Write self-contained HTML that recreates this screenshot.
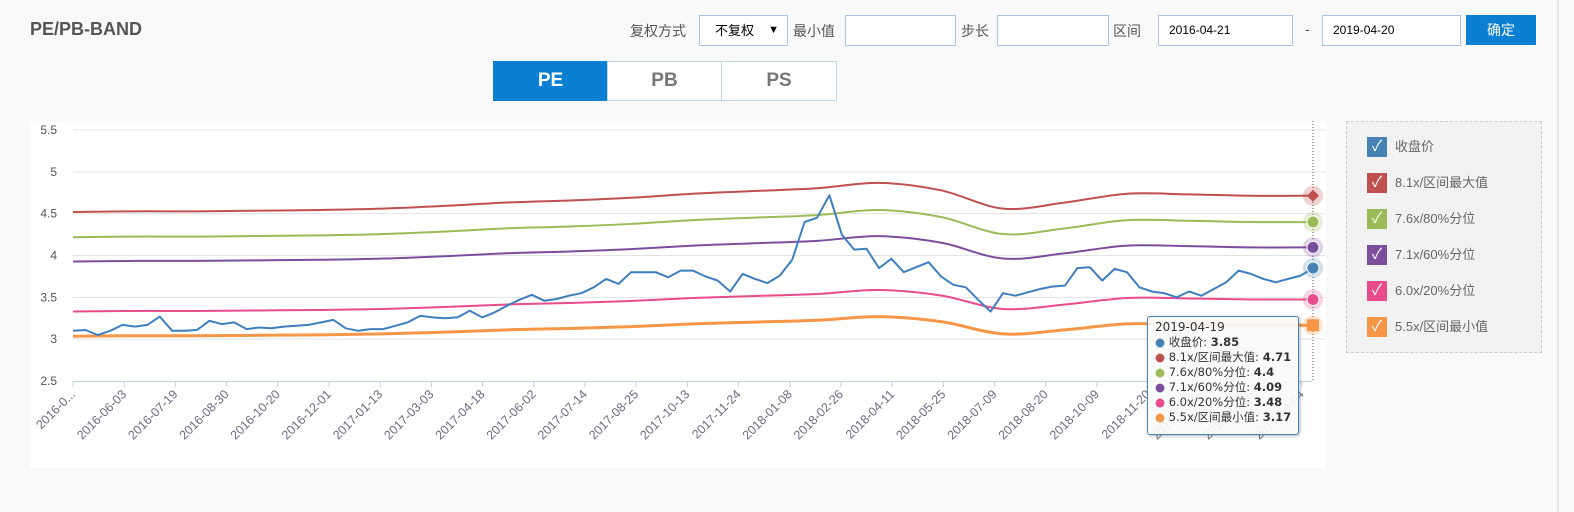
<!DOCTYPE html>
<html style="overflow:hidden"><head><meta charset="utf-8">
<style>
html,body{margin:0;padding:0}
body{width:1574px;height:512px;background:#f9f9f9;font-family:"Liberation Sans","Noto Sans CJK SC",sans-serif;position:relative;overflow:hidden}
.abs{position:absolute}
.lbl{font-size:14px;color:#555;top:21px}
.inp{top:15px;height:31px;border:1px solid #a9c4e6;background:#fff;box-sizing:border-box;font-size:12px;line-height:29px;padding-left:10px;color:#000}
.tab{top:61px;height:40px;width:115px;border:1px solid #c5d6ea;box-sizing:border-box;background:#fff;color:#777;font-weight:bold;font-size:19px;text-align:center;line-height:38px}
</style></head><body>
<div class="abs" style="left:30px;top:19px;font-size:18px;font-weight:bold;color:#555">PE/PB-BAND</div>
<div class="abs lbl" style="left:630px">复权方式</div>
<div class="abs inp" style="left:699px;width:89px;font-size:13px;padding-left:15px">不复权<span style="position:absolute;right:8px;font-size:11px">▼</span></div>
<div class="abs lbl" style="left:793px">最小值</div>
<div class="abs inp" style="left:845px;width:111px"></div>
<div class="abs lbl" style="left:961px">步长</div>
<div class="abs inp" style="left:997px;width:112px"></div>
<div class="abs lbl" style="left:1113px">区间</div>
<div class="abs inp" style="left:1158px;width:135px">2016-04-21</div>
<div class="abs lbl" style="left:1305px">-</div>
<div class="abs inp" style="left:1322px;width:139px">2019-04-20</div>
<div class="abs" style="left:1466px;top:15px;width:70px;height:30px;background:#0b7fd2;color:#fff;font-size:14px;text-align:center;line-height:30px">确定</div>
<div class="abs tab" style="left:493px;background:#0b7fd2;color:#fff;border-color:#0b7fd2">PE</div>
<div class="abs tab" style="left:607px">PB</div>
<div class="abs tab" style="left:721px;width:116px">PS</div>
<div class="abs" style="left:1557px;top:0;width:2px;height:512px;background:#e6e6e6"></div>

<svg class="abs" style="left:0;top:0" width="1574" height="512" id="chart">
<rect x="30" y="121" width="1296" height="347" fill="#fff"/>
<g id="grid"></g><g id="xaxis"></g><g id="series"></g><g id="markers"></g>
</svg>

<div class="abs" style="left:1147px;top:316px;width:152px;height:119px;box-sizing:border-box;border:1px solid #4682b4;border-radius:3px;background:rgba(250,250,250,0.93);box-shadow:1px 1px 3px rgba(0,0,0,.3);font-size:11.5px;color:#333;padding:3px 0 0 7px;line-height:15px;font-family:'DejaVu Sans','Noto Sans CJK SC',sans-serif;white-space:nowrap">
<div style="font-size:12px">2019-04-19</div>
<div><span style="color:#4682b4">●</span> 收盘价: <b>3.85</b></div>
<div><span style="color:#c0504d">●</span> 8.1x/区间最大值: <b>4.71</b></div>
<div><span style="color:#9bbb59">●</span> 7.6x/80%分位: <b>4.4</b></div>
<div><span style="color:#7b4e9d">●</span> 7.1x/60%分位: <b>4.09</b></div>
<div><span style="color:#e84c8b">●</span> 6.0x/20%分位: <b>3.48</b></div>
<div><span style="color:#f79646">●</span> 5.5x/区间最小值: <b>3.17</b></div>
</div>

<div class="abs" style="left:1346px;top:121px;width:196px;height:232px;box-sizing:border-box;border:1px dashed #ccc;background:#f2f2f2" id="legend"></div>

<script>
const priceValues=[3.10,3.11,3.05,3.10,3.17,3.15,3.17,3.27,3.10,3.10,3.11,3.22,3.18,3.20,3.12,3.14,3.13,3.15,3.16,3.17,3.20,3.23,3.13,3.10,3.12,3.12,3.16,3.20,3.28,3.26,3.25,3.26,3.34,3.26,3.32,3.40,3.47,3.53,3.46,3.48,3.52,3.55,3.62,3.72,3.66,3.80,3.80,3.80,3.74,3.82,3.82,3.75,3.70,3.57,3.78,3.72,3.67,3.76,3.95,4.40,4.45,4.72,4.25,4.07,4.08,3.85,3.96,3.80,3.86,3.92,3.75,3.65,3.62,3.47,3.33,3.55,3.52,3.56,3.60,3.63,3.64,3.85,3.86,3.70,3.84,3.80,3.62,3.57,3.55,3.50,3.57,3.52,3.60,3.68,3.82,3.78,3.72,3.68,3.72,3.76,3.85];
const epsValues=[0.558,0.559,0.559,0.560,0.561,0.563,0.567,0.572,0.575,0.579,0.585,0.589,0.593,0.601,0.590,0.563,0.572,0.585,0.584,0.582,0.582];
const bandMultipliers=[8.1,7.56,7.04,5.97,5.44];
const bandNames=['8.1x/区间最大值','7.6x/80%分位','7.1x/60%分位','6.0x/20%分位','5.5x/区间最小值'];
const bandColors=['#c0504d','#9bbb59','#7b4e9d','#e84c8b','#f79646'];
const yTicks=[2.5,3,3.5,4,4.5,5,5.5];
const xTickLabels=['2016-0...','2016-06-03','2016-07-19','2016-08-30','2016-10-20','2016-12-01','2017-01-13','2017-03-03','2017-04-18','2017-06-02','2017-07-14','2017-08-25','2017-10-13','2017-11-24','2018-01-08','2018-02-26','2018-04-11','2018-05-25','2018-07-09','2018-08-20','2018-10-09','2018-11-20','2019-01-04','2019-02-25','2019-04-04'];

const X0=73,X1=1313,Y0=381,Y1=130;
const ns='http://www.w3.org/2000/svg';
const yS=v=>Y0-(v-2.5)/(5.5-2.5)*(Y0-Y1);
const xF=f=>X0+f*(X1-X0);
function mk(tag,attrs,parent){const e=document.createElementNS(ns,tag);for(const k in attrs)e.setAttribute(k,attrs[k]);parent.appendChild(e);return e;}
const grid=document.getElementById('grid'),xa=document.getElementById('xaxis'),ser=document.getElementById('series'),mkr=document.getElementById('markers');
yTicks.forEach(t=>{
  if(t>2.5){const l=mk('line',{x1:X0,x2:X1+13,y1:yS(t),y2:yS(t),stroke:'#e3e3e3','stroke-width':1},grid);
  
  }
  const tx=mk('text',{x:57,y:yS(t)+4,'text-anchor':'end','font-size':12,fill:'#555','font-family':'Liberation Sans, sans-serif'},grid);
  tx.textContent=t;
  
  
});
const ax=mk('line',{x1:X0,x2:X1,y1:Y0+0.5,y2:Y0+0.5,stroke:'#c0d0e0'},xa);


const step=(X1-X0)/(xTickLabels.length-1+0.22);
xTickLabels.forEach((s,i)=>{
  const x=X0+i*step;
  const tk=mk('line',{x1:x,x2:x,y1:Y0,y2:Y0+6,stroke:'#c0d0e0'},xa);
  
  
  const t=mk('text',{x:x+3,y:Y0+14,'text-anchor':'end','font-size':12.5,fill:'#6f6a80','font-family':'Liberation Sans, sans-serif',transform:`rotate(-45 ${x+3} ${Y0+14})`},xa);
  t.textContent=s;
  
  
});
const dl=mk('line',{x1:X1,x2:X1,y1:121,y2:Y0,stroke:'#555','stroke-dasharray':'1,2'},xa);



function smoothPath(pts){let d=`M${pts[0][0]},${pts[0][1]}`;for(let i=0;i<pts.length-1;i++){const p0=pts[Math.max(0,i-1)],p1=pts[i],p2=pts[i+1],p3=pts[Math.min(pts.length-1,i+2)];d+=` C${p1[0]+(p2[0]-p0[0])/6},${p1[1]+(p2[1]-p0[1])/6} ${p2[0]-(p3[0]-p1[0])/6},${p2[1]-(p3[1]-p1[1])/6} ${p2[0]},${p2[1]}`;}return d;}
const endY=[];
bandMultipliers.forEach((m,b)=>{
  const pts=epsValues.map((e,i)=>[xF(i/(epsValues.length-1)),yS(e*m)]);
  const p=mk('path',{d:smoothPath(pts),fill:'none',stroke:bandColors[b],'stroke-width':b==4?3:2},ser);
  
  
  endY.push(pts[pts.length-1][1]);
});
const pp=priceValues.map((v,i)=>`${xF(i/(priceValues.length-1)).toFixed(1)},${yS(v).toFixed(1)}`).join(' ');
const pl=mk('polyline',{points:pp,fill:'none',stroke:'#3f7fbd','stroke-width':2,'stroke-linejoin':'round'},ser);



const allMarkers=[[endY[0],bandColors[0],'diamond'],[endY[1],bandColors[1],'circle'],[endY[2],bandColors[2],'circle'],[yS(priceValues[priceValues.length-1]),'#4682b4','circle'],[endY[3],bandColors[3],'circle'],[endY[4],bandColors[4],'square']];
allMarkers.forEach(([y,c,sh])=>{
  const h=mk('circle',{cx:X1,cy:y,r:10,fill:c,'fill-opacity':0.25},mkr);
  
  
  let m;
  if(sh=='circle')m=mk('circle',{cx:X1,cy:y,r:6,fill:c,stroke:'#fff','stroke-width':1},mkr);
  else if(sh=='square')m=mk('rect',{x:X1-6,y:y-6,width:12,height:12,fill:c},mkr);
  else m=mk('path',{d:`M${X1},${y-6}L${X1+6},${y}L${X1},${y+6}L${X1-6},${y}Z`,fill:c},mkr);
  
  
});

const legend=document.getElementById('legend');
const legNames=['收盘价'].concat(bandNames),legCols=['#4682b4'].concat(bandColors);
legNames.forEach((n,i)=>{
  const d=document.createElement('div');
  
  
  d.style.cssText=`position:absolute;left:20px;top:${15+i*36}px;height:20px;font-size:13px;color:#666;line-height:20px;white-space:nowrap`;
  d.innerHTML=`<span style="display:inline-block;width:20px;height:20px;background:${legCols[i]};color:#fff;text-align:center;font-size:15px;vertical-align:top;margin-right:8px">✓</span>${n}`;
  legend.appendChild(d);
});
</script>
</body></html>
